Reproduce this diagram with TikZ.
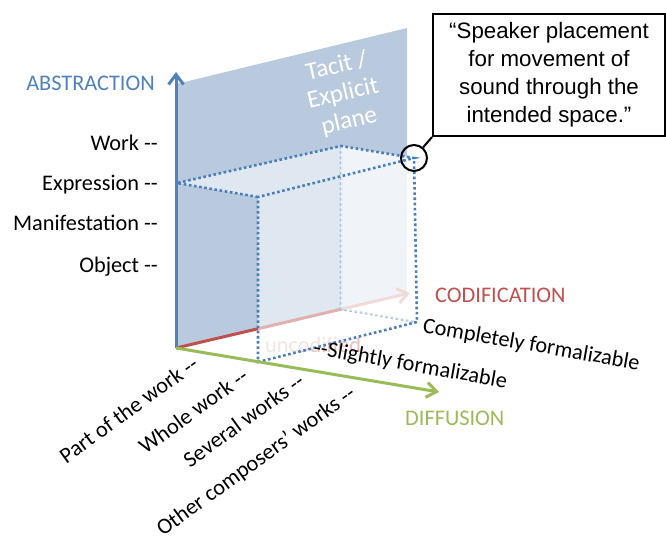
\documentclass[tikz,border=0pt]{standalone}
\usepackage{fontspec}
\setmainfont{Carlito}
\newfontfamily\calloutfont{Liberation Sans}
\usetikzlibrary{arrows.meta}
\definecolor{axisblue}{HTML}{4F81BD}
\definecolor{planeblue}{HTML}{B9CADF}
\definecolor{codred}{HTML}{C0504D}
\definecolor{diffgreen}{HTML}{9BBB59}
\definecolor{cubeblue}{HTML}{4A7EBB}
\newcommand{\dashes}{\mbox{-}\mbox{-}}

\begin{document}
\begin{tikzpicture}[x=1pt,y=-1pt,
  lbl/.style={font=\fontsize{22.3}{27}\selectfont, inner sep=0pt},
  edge/.style={draw=cubeblue, line width=2.6pt, dash pattern=on 2.6pt off 2.6pt},
  face/.style={fill=white, fill opacity=0.55}]
\def\l{10pt}
\def\w{15pt}
\def\t{3pt}
\useasboundingbox (0,0) rectangle (666,535);

% axes and cube corners
\coordinate (o) at (176,348);
\coordinate (abstip) at (176,72);
\coordinate (codtip) at (410,293);
\coordinate (difftip) at (439,392);
\coordinate (a) at (177,183);
\coordinate (b) at (341,146);
\coordinate (c) at (414,158);
\coordinate (d) at (258,197);
\coordinate (b2) at (341,309);
\coordinate (c2) at (417,322);
\coordinate (d2) at (258,362);
\coordinate (p1) at (176,84);
\coordinate (p2) at (407,28);
\coordinate (p3) at (407,294);

% tacit/explicit plane
\fill[planeblue] (o) -- (p1) -- (p2) -- (p3) -- cycle;
\draw[codred, line width=\t, -{Straight Barb[length=\l, width=\w]}] (o) -- (codtip);
\node[lbl, codred, opacity=0.35, anchor=base west, name=uncod] at (265,352) {uncodified};
\draw[edge] (b) -- (b2) -- (c2);

% see-through faces of the cube
\fill[face] (a) -- (b) -- (c) -- (d) -- cycle;
\fill[face] (b) -- (c) -- (c2) -- (b2) -- cycle;
\fill[face] (d) -- (c) -- (c2) -- (d2) -- cycle;
\draw[edge] (d) -- (a) -- (b) -- (c) -- (d) -- (d2) -- (c2) -- (c);

\draw[axisblue, line width=\t, -{Straight Barb[length=\l, width=\w]}] (o) -- (abstip);
\draw[diffgreen, line width=\t, -{Straight Barb[length=\l, width=\w]}] (o) -- (difftip);

\node[lbl, white, align=center, rotate=13, font=\fontsize{25}{28}\selectfont, name=plane] at (343,94) {Tacit /\\Explicit\\plane};

\node[lbl, axisblue, anchor=base east, name=abs] at (155,90) {ABSTRACTION};
\node[lbl, anchor=base east, name=l1] at (158,150) {Work \dashes};
\node[lbl, anchor=base east, name=l2] at (158,190) {Expression \dashes};
\node[lbl, anchor=base east, name=l3] at (158,230) {Manifestation \dashes};
\node[lbl, anchor=base east, name=l4] at (158,272) {Object \dashes};

\node[lbl, codred, anchor=base west, name=cod] at (435,302) {CODIFICATION};
\node[lbl, rotate=-10, anchor=base west, name=k1] at (422,332) {Completely formalizable};
\node[lbl, rotate=-10, anchor=base west, name=k2] at (313,354) {\dashes Slightly formalizable};
\node[lbl, diffgreen, anchor=base west, name=diff] at (405,425) {DIFFUSION};

\node[lbl, rotate=36, anchor=base east, name=d1] at (200,367) {Part of the work \dashes};
\node[lbl, rotate=36, anchor=base east, name=d2] at (250,379) {Whole work \dashes};
\node[lbl, rotate=36, anchor=base east, name=d3] at (306,384) {Several works \dashes};
\node[lbl, rotate=36, anchor=base east, name=d4] at (357,396) {Other composers’ works \dashes};

% callout
\node[draw, black, line width=2pt, minimum width=232pt, minimum height=122pt, align=center, font=\calloutfont\fontsize{22.3}{28}\selectfont, name=quote] at (549,75) {“Speaker placement\\for movement of\\sound through the\\intended space.”};
\node[draw, black, circle, line width=2pt, minimum size=26pt, inner sep=0pt, name=spot] at (c) {};
\draw[black, line width=2pt] (spot) -- (quote.south west);
\end{tikzpicture}
\end{document}
